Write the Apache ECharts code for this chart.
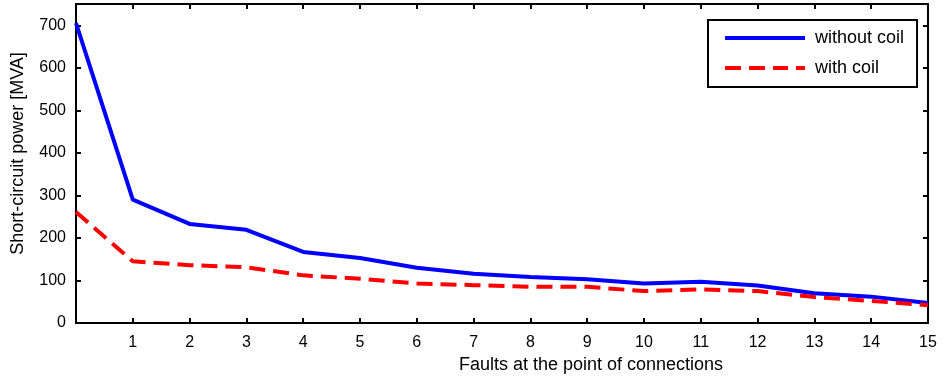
<!DOCTYPE html>
<html>
<head>
<meta charset="utf-8">
<script src="https://cdn.jsdelivr.net/npm/echarts@6/dist/echarts.min.js"></script>
<style>html,body{margin:0;padding:0;background:#fff}#c{width:943px;height:377px}</style>
</head>
<body>
<div id="c"></div>
<script>
var faults = [0,1,2,3,4,5,6,7,8,9,10,11,12,13,14,15];
var withoutCoil = [705,290,233,219,167,153,130,116,108,103,93,97,88,70,62,47];
var withCoil = [261,145,136,131,112,104,93,89,85,85,75,79,75,61,52,42];
var seriesNames = ['without coil','with coil'];
var xTitle = 'Faults at the point of connections';
var yTitle = 'Short-circuit power [MVA]';

function pairs(xs, ys){ return xs.map(function(x,i){ return [x, ys[i]]; }); }

var font = 'Liberation Sans, Arial, sans-serif';
var axisLineStyle = {color:'#000', width:2};
var tickStyle = {show:true, inside:true, length:5, lineStyle:{color:'#000', width:2}};
var solidIcon = 'path://M0,0h80v4h-80z';
var dashIcon = 'path://M0,0h16v4h-16z M24,0h16v4h-16z M48,0h15v4h-15z M71,0h9v4h-9z';

var chart = echarts.init(document.getElementById('c'), null, {renderer:'canvas'});
chart.setOption({
  animation:false,
  backgroundColor:'#fff',
  grid:{left:76, right:15, top:4, bottom:54, show:false, outerBoundsMode:'none', containLabel:false},
  legend:{
    orient:'vertical', left:708, top:20,
    backgroundColor:'#fff', borderColor:'#000', borderWidth:2, borderRadius:0,
    padding:[9,13,10,17],
    itemWidth:80, itemHeight:4, itemGap:12,
    symbolKeepAspect:false,
    textStyle:{fontFamily:font, fontSize:18, color:'#000', padding:[0,0,0,5]},
    data:[{name:seriesNames[0], icon:solidIcon},{name:seriesNames[1], icon:dashIcon}]
  },
  xAxis:[{
    type:'value', min:0, max:15, interval:1,
    name:xTitle, nameLocation:'middle', nameGap:31,
    nameTextStyle:{fontFamily:font, fontSize:18, color:'#000', padding:[0,0,0,178]},
    axisLine:{show:true, onZero:false, lineStyle:axisLineStyle},
    axisTick:tickStyle,
    axisLabel:{fontFamily:font, fontSize:16, color:'#000', margin:12, showMinLabel:false},
    splitLine:{show:false}
  },{
    type:'value', min:0, max:15, interval:1, position:'top',
    axisLine:{show:true, onZero:false, lineStyle:axisLineStyle},
    axisTick:tickStyle,
    axisLabel:{show:false}, splitLine:{show:false}
  }],
  yAxis:[{
    type:'value', min:0, max:750, interval:100,
    name:yTitle, nameLocation:'middle', nameGap:49, nameRotate:90,
    nameTextStyle:{fontFamily:font, fontSize:18, color:'#000', padding:[0,0,0,20]},
    axisLine:{show:true, onZero:false, lineStyle:axisLineStyle},
    axisTick:tickStyle,
    axisLabel:{fontFamily:font, fontSize:16, color:'#000', margin:10, showMaxLabel:false},
    splitLine:{show:false}
  },{
    type:'value', min:0, max:750, interval:100, position:'right',
    axisLine:{show:true, onZero:false, lineStyle:axisLineStyle},
    axisTick:tickStyle,
    axisLabel:{show:false}, splitLine:{show:false}
  }],
  series:[{
    name:seriesNames[0], type:'line', data:pairs(faults, withoutCoil),
    symbol:'none', lineStyle:{color:'#0000ff', width:4}, itemStyle:{color:'#0000ff'}
  },{
    name:seriesNames[1], type:'line', data:pairs(faults, withCoil),
    symbol:'none', lineStyle:{color:'#ff0000', width:4, type:[16,8]}, itemStyle:{color:'#ff0000'}
  }]
});
</script>
</body>
</html>
